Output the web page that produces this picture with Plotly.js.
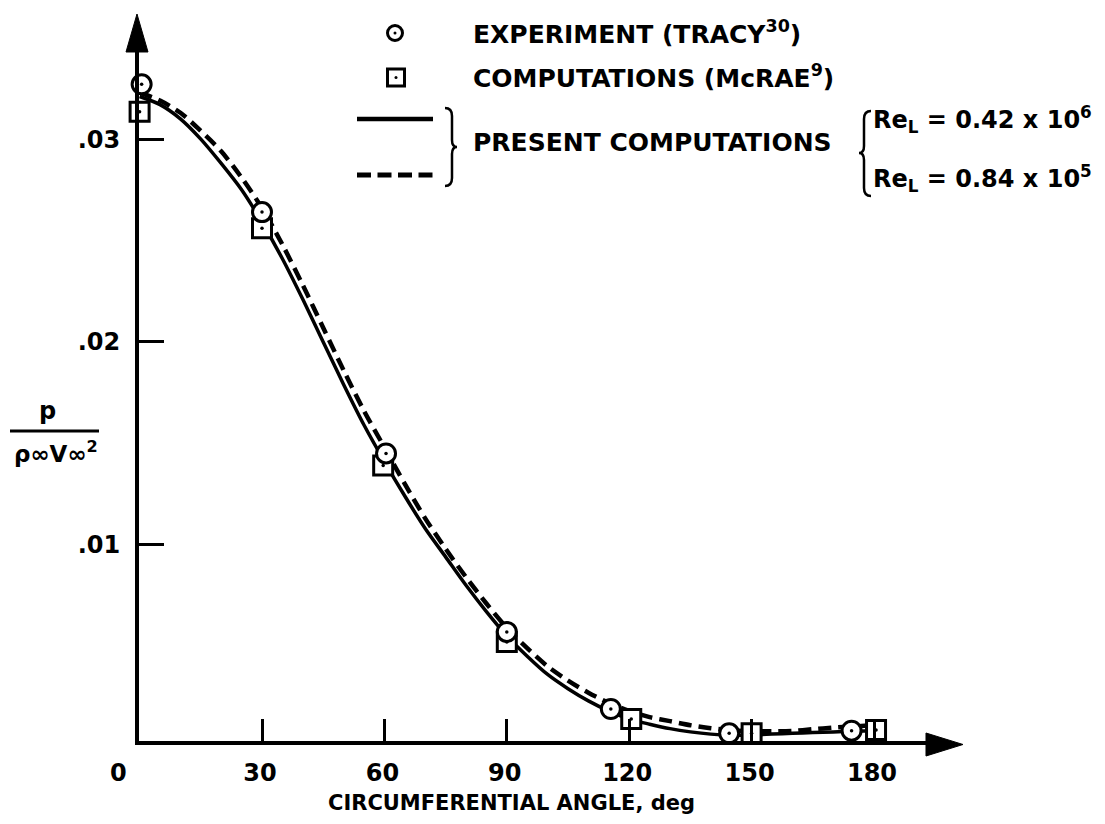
<!DOCTYPE html>
<html><head><meta charset="utf-8">
<script src="https://cdn.plot.ly/plotly-3.0.1.min.js"></script>
<style>body{margin:0;background:#fff}#chart{width:1105px;height:824px}</style>
</head><body><div id="chart"></div>
<script>
// ---- data ----
const curveAngle = [0,5,10,15,20,25,30,35,40,45,50,55,60,65,70,75,80,85,90,95,100,105,110,115,120,125,130,135,140,145,150,155,160,165,170,175,180];
const presentReL042e6 = [0.0321,0.0317,0.0310,0.0300,0.0288,0.0275,0.0259,0.0241,0.0221,0.0200,0.0179,0.0159,0.0141,0.0124,0.0108,0.0094,0.0080,0.0067,0.0055,0.0045,0.0036,0.0029,0.0023,0.0018,0.0014,0.00115,0.00093,0.00077,0.00066,0.00061,0.00062,0.00066,0.0007,0.00074,0.00077,0.0008,0.00082];
const presentReL084e5 = [0.0323,0.0319,0.0313,0.0304,0.0294,0.0281,0.0266,0.0248,0.0228,0.0207,0.0186,0.0166,0.0148,0.0130,0.0113,0.0098,0.0084,0.0071,0.0059,0.0049,0.0040,0.0033,0.0027,0.0022,0.0018,0.0015,0.0013,0.0011,0.00095,0.00085,0.0008,0.0008,0.00082,0.0009,0.00098,0.00104,0.0011];
const tracyAngle = [0.5,30,60.4,90,115.5,144.5,174.5];
const tracyValue = [0.0327,0.0264,0.0145,0.0057,0.0019,0.0007,0.00083];
const mcraeAngle = [0,30,59.7,90,120.5,150,180.5];
const mcraeValue = [0.03135,0.0256,0.0139,0.0052,0.0014,0.0007,0.00086];
const yTickVals = [0.01,0.02,0.03];
const yTickText = ['.01','.02','.03'];
const xTickVals = [30,60,90,120,150,180];
const xTickText = ['30','60','90','120','150','180'];

// ---- layout geometry (pixels) ----
const L=139, R=930, T=48, B=741;
const PXDEG=4.08, X0=139.6, PXVAL=20280, Y0=747.5;
const xl=(L-X0)/PXDEG, xr=(R-X0)/PXDEG;
const yb=(Y0-B)/PXVAL, yt=(Y0-T)/PXVAL;
const px = x => (x-L)/(R-L);
const py = y => (B-y)/(B-T);
const FONT = 'DejaVu Sans, Verdana, sans-serif';
const f = (s)=>({family:FONT,size:s,color:'#000',weight:'bold'});

const traces = [
  {x:curveAngle,y:presentReL042e6,mode:'lines',line:{color:'#000',width:3.5,shape:'spline',smoothing:0.8},hoverinfo:'skip'},
  {x:curveAngle,y:presentReL084e5,mode:'lines',line:{color:'#000',width:4.5,dash:'13px,7px',shape:'spline',smoothing:0.8},hoverinfo:'skip'},
  {x:mcraeAngle,y:mcraeValue,mode:'markers',cliponaxis:false,marker:{symbol:'square',size:19,color:'#fff',line:{color:'#000',width:3}}},
  {x:tracyAngle,y:tracyValue,mode:'markers',cliponaxis:false,marker:{symbol:'circle',size:19,color:'#fff',line:{color:'#000',width:3}}},
  {x:mcraeAngle,y:mcraeValue,mode:'markers',cliponaxis:false,marker:{symbol:'circle',size:3.5,color:'#000'}},
  {x:tracyAngle,y:tracyValue,mode:'markers',cliponaxis:false,marker:{symbol:'circle',size:3.5,color:'#000'}}
];

function seg(x0,y0,x1,y1,w,dash){return {type:'line',xref:'paper',yref:'paper',x0:px(x0),y0:py(y0),x1:px(x1),y1:py(y1),line:{color:'#000',width:w,dash:dash||'solid'}};}
const P=(x,y)=>px(x).toFixed(5)+','+py(y).toFixed(5);

const shapes = [
  // arrowheads
  {type:'path',xref:'paper',yref:'paper',path:'M'+P(926,733)+' L'+P(963,744.5)+' L'+P(926,756)+' Z',fillcolor:'#000',line:{color:'#000',width:1}},
  {type:'path',xref:'paper',yref:'paper',path:'M'+P(126,52)+' L'+P(137,14)+' L'+P(148,52)+' Z',fillcolor:'#000',line:{color:'#000',width:1}},
  // legend symbols
  {type:'circle',xref:'paper',yref:'paper',x0:px(387.5),x1:px(402.5),y0:py(40.5),y1:py(25.5),fillcolor:'#fff',line:{color:'#000',width:3}},
  {type:'circle',xref:'paper',yref:'paper',x0:px(393.5),x1:px(396.5),y0:py(34.5),y1:py(31.5),fillcolor:'#000',line:{color:'#000',width:0}},
  {type:'rect',xref:'paper',yref:'paper',x0:px(387.5),x1:px(404.5),y0:py(86),y1:py(69),fillcolor:'#fff',line:{color:'#000',width:3}},
  {type:'circle',xref:'paper',yref:'paper',x0:px(394.5),x1:px(397.5),y0:py(79),y1:py(76),fillcolor:'#000',line:{color:'#000',width:0}},
  seg(357,119,433,119,4.5),
  seg(357,175,434,175,5,'14px,6.5px'),
  // right brace
  {type:'path',xref:'paper',yref:'paper',line:{color:'#000',width:2.5},
   path:'M'+P(445,108)+' Q'+P(452,108)+' '+P(452,116)+' L'+P(452,140)+' Q'+P(452,147)+' '+P(457,147)+' Q'+P(452,147)+' '+P(452,154)+' L'+P(452,178)+' Q'+P(452,186)+' '+P(445,186)},
  // left brace
  {type:'path',xref:'paper',yref:'paper',line:{color:'#000',width:2.5},
   path:'M'+P(871,111)+' Q'+P(864,111)+' '+P(864,119)+' L'+P(864,146)+' Q'+P(864,153)+' '+P(859,153)+' Q'+P(864,153)+' '+P(864,160)+' L'+P(864,188)+' Q'+P(864,196)+' '+P(871,196)},
  // y title fraction bar
  seg(10,431,99,431,3)
];

function ann(text,x,y,size,xanchor){return {text:text,xref:'paper',yref:'paper',x:px(x),y:py(y),xanchor:xanchor||'left',yanchor:'middle',showarrow:false,font:f(size)};}
const annotations = [
  ann('0',118,773,24,'center'),
  ann('EXPERIMENT (TRACY<sup>30</sup>)',471,32,25),
  ann('COMPUTATIONS (McRAE<sup>9</sup>)',471,77,25),
  ann('PRESENT COMPUTATIONS',471,142,25),
  ann('Re<sub>L</sub> = 0.42 x 10<sup>6</sup>',871,119,24),
  ann('Re<sub>L</sub> = 0.84 x 10<sup>5</sup>',871,178,24),
  ann('p',47,411,24,'center'),
  ann('ρ∞V∞<sup>2</sup>',56,452,23,'center'),
  ann('CIRCUMFERENTIAL ANGLE, deg',511,803,21,'center')
];

const layout = {
  width:1105,height:824,paper_bgcolor:'#fff',plot_bgcolor:'rgba(0,0,0,0)',showlegend:false,
  margin:{l:L,r:1105-R,t:T,b:824-B,pad:0},
  xaxis:{range:[xl,xr],showline:true,linewidth:4,linecolor:'#000',ticks:'inside',ticklen:22,tickwidth:3,tickcolor:'#000',
         tickmode:'array',tickvals:xTickVals,ticktext:xTickText,tickfont:f(24),showgrid:false,zeroline:false,ticklabelstandoff:7,ticklabelshift:-2,fixedrange:true},
  yaxis:{range:[yb,yt],showline:true,linewidth:4,linecolor:'#000',ticks:'inside',ticklen:25,tickwidth:3,tickcolor:'#000',
         tickmode:'array',tickvals:yTickVals,ticktext:yTickText,tickfont:f(24),showgrid:false,zeroline:false,ticklabelstandoff:10,fixedrange:true},
  shapes:shapes,annotations:annotations
};
Plotly.newPlot('chart',traces,layout,{displayModeBar:false,staticPlot:true});
</script></body></html>
